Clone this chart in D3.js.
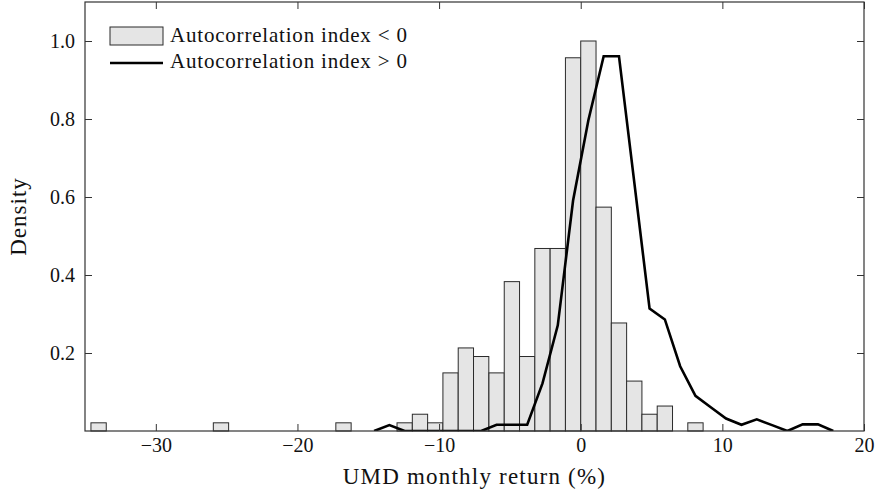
<!DOCTYPE html>
<html>
<head>
<meta charset="utf-8">
<script src="https://cdn.jsdelivr.net/npm/d3@7"></script>
<style>
  body { margin: 0; background: #fff; }
  svg, svg text { font-family: 'Liberation Serif', 'DejaVu Serif', 'Times New Roman', serif; }
</style>
</head>
<body>
<svg id="canvas"></svg>
<script>
const WIDTH = 877;
const HEIGHT = 490;

const LEFT = 85;
const RIGHT = 864;
const TOP = 2;
const BOTTOM = 431;

const FONT = "'Liberation Serif', 'DejaVu Serif', 'Times New Roman', serif";

// histogram (autocorrelation index < 0): left edge of each non-empty bin and its density
const BIN_WIDTH = 1.0806;
const histX0 = [
  -34.58, -25.94, -17.29, -12.97, -11.89, -10.81, -9.73, -8.65, -7.57, -6.48, -5.4,
  -4.32, -3.24, -2.16, -1.08, 0.0, 1.08, 2.16, 3.24, 4.32, 5.4, 7.56,
];
const histDensity = [
  0.021, 0.021, 0.021, 0.021, 0.043, 0.021, 0.149, 0.213, 0.191, 0.149, 0.383,
  0.191, 0.468, 0.468, 0.957, 1.0, 0.574, 0.277, 0.128, 0.043, 0.064, 0.021,
];

// line (autocorrelation index > 0): bin centres and density
const lineX = [
  -14.59, -13.51, -12.43, -11.35, -10.27, -9.19, -8.11, -7.03, -5.94, -4.86, -3.78,
  -2.7, -1.62, -0.54, 0.54, 1.62, 2.7, 3.78, 4.86, 5.94, 7.02, 8.1, 9.18, 10.26,
  11.35, 12.43, 13.51, 14.59, 15.67, 16.75, 17.83,
];
const lineDensity = [
  0, 0.015, 0, 0, 0, 0, 0, 0, 0.016, 0.016, 0.016,
  0.122, 0.271, 0.591, 0.797, 0.961, 0.961, 0.638, 0.314, 0.286, 0.166, 0.09, 0.061, 0.032,
  0.016, 0.03, 0.015, 0, 0.017, 0.017, 0,
];

const xTicks = [-30, -20, -10, 0, 10, 20];
const yTicks = [0.2, 0.4, 0.6, 0.8, 1.0];
const legendLabels = ["Autocorrelation index < 0", "Autocorrelation index > 0"];

const canvas = d3.select("#canvas").attr("width", WIDTH).attr("height", HEIGHT);

const xScale = d3.scaleLinear().domain([-35, 20]).range([LEFT, RIGHT]);
const yScale = d3.scaleLinear().domain([0, 1.1]).range([BOTTOM, TOP]);

canvas
  .append("defs")
  .append("clipPath")
  .attr("id", "plot-clip")
  .append("rect")
  .attr("x", LEFT)
  .attr("y", TOP)
  .attr("width", RIGHT - LEFT)
  .attr("height", BOTTOM - TOP);

// bars
canvas
  .append("g")
  .selectAll("rect")
  .data(histX0)
  .enter()
  .append("rect")
  .attr("x", (d) => xScale(d))
  .attr("width", (d) => xScale(d + BIN_WIDTH) - xScale(d))
  .attr("y", (d, i) => yScale(histDensity[i]))
  .attr("height", (d, i) => yScale(0) - yScale(histDensity[i]))
  .attr("fill", "#e5e5e5")
  .attr("stroke", "#2b2b2b")
  .attr("stroke-width", 1);

// line
const line = d3
  .line()
  .x((d) => xScale(d))
  .y((d, i) => yScale(lineDensity[i]));

canvas
  .append("path")
  .datum(lineX)
  .attr("d", line)
  .attr("clip-path", "url(#plot-clip)")
  .attr("fill", "none")
  .attr("stroke", "#000")
  .attr("stroke-width", 2.6)
  .attr("stroke-linejoin", "miter");

// axes, ticks pointing inward on all sides
const drawAxes = () => {
  const bottom = canvas
    .append("g")
    .attr("transform", "translate(0," + BOTTOM + ")")
    .call(d3.axisBottom(xScale).tickValues(xTicks).tickSize(-7).tickPadding(7));
  const top = canvas
    .append("g")
    .attr("transform", "translate(0," + TOP + ")")
    .call(d3.axisTop(xScale).tickValues(xTicks).tickSize(-7).tickFormat(""));
  const left = canvas
    .append("g")
    .attr("transform", "translate(" + LEFT + ",0)")
    .call(
      d3.axisLeft(yScale).tickValues(yTicks).tickSize(-7).tickPadding(10).tickFormat(d3.format(".1f"))
    );
  const right = canvas
    .append("g")
    .attr("transform", "translate(" + RIGHT + ",0)")
    .call(d3.axisRight(yScale).tickValues(yTicks).tickSize(-7).tickFormat(""));

  [bottom, top, left, right].forEach((g) => {
    g.attr("font-family", FONT).attr("font-size", 20);
    g.select(".domain").remove();
    g.selectAll("line").attr("stroke", "#333");
    g.selectAll("text").attr("fill", "#111");
  });

  canvas
    .append("rect")
    .attr("x", LEFT)
    .attr("y", TOP)
    .attr("width", RIGHT - LEFT)
    .attr("height", BOTTOM - TOP)
    .attr("fill", "none")
    .attr("stroke", "#333")
    .attr("stroke-width", 1.2);
};
drawAxes();

// axis titles
canvas
  .append("text")
  .attr("x", (LEFT + RIGHT) / 2)
  .attr("y", 484)
  .attr("text-anchor", "middle")
  .attr("font-family", FONT)
  .attr("font-size", 23)
  .style("letter-spacing", "1.2px")
  .attr("fill", "#111")
  .text("UMD monthly return (%)");

canvas
  .append("text")
  .attr("transform", "translate(26," + (TOP + BOTTOM) / 2 + ") rotate(-90)")
  .attr("text-anchor", "middle")
  .attr("font-family", FONT)
  .attr("font-size", 23)
  .style("letter-spacing", "1px")
  .attr("fill", "#111")
  .text("Density");

// legend
const legend = canvas.append("g");
legend
  .append("rect")
  .attr("x", 110)
  .attr("y", 27)
  .attr("width", 53)
  .attr("height", 18)
  .attr("fill", "#e5e5e5")
  .attr("stroke", "#2b2b2b")
  .attr("stroke-width", 1);
legend
  .append("line")
  .attr("x1", 110)
  .attr("x2", 163)
  .attr("y1", 63)
  .attr("y2", 63)
  .attr("stroke", "#000")
  .attr("stroke-width", 2.6);
legend
  .selectAll("text")
  .data(legendLabels)
  .enter()
  .append("text")
  .attr("x", 170)
  .attr("y", (d, i) => 42 + i * 26)
  .attr("font-family", FONT)
  .attr("font-size", 21)
  .style("letter-spacing", "0.8px")
  .attr("fill", "#111")
  .text((d) => d);
</script>
</body>
</html>
